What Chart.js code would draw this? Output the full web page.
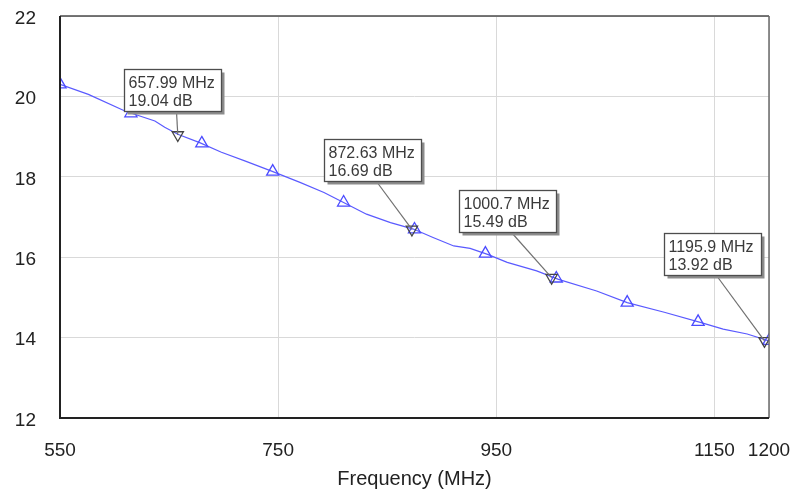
<!DOCTYPE html>
<html>
<head>
<meta charset="utf-8">
<script src="https://cdn.jsdelivr.net/npm/chart.js@4/dist/chart.umd.min.js"></script>
<style>
  html, body { margin: 0; padding: 0; background: #ffffff; }
  #wrap { width: 795px; height: 491px; position: relative; }
</style>
</head>
<body>
<div id="wrap"><canvas id="c" width="795" height="491"></canvas></div>
<script>
// ---- data ----
const traceFreq = [550,576,610,637,646,658,678,698,720,744,770,792,810,831,853,874,892,911,926,942,960,987,1007,1042,1070,1104,1137,1158,1180,1200];
const traceGain = [20.30,20.05,19.63,19.39,19.23,19.06,18.85,18.61,18.39,18.14,17.86,17.61,17.36,17.07,16.86,16.70,16.49,16.28,16.22,16.07,15.87,15.66,15.45,15.16,14.87,14.63,14.38,14.21,14.09,13.92];

const symbolFreq = [550,615,680,745,810,875,940,1005,1070,1135,1200];
const symbolGain = [20.30,19.58,18.83,18.13,17.36,16.69,16.09,15.47,14.87,14.39,13.92];

const markerFreq = [657.99, 872.63, 1000.7, 1195.9];
const markerGain = [19.04, 16.69, 15.49, 13.92];
const markerFreqText = ['657.99 MHz', '872.63 MHz', '1000.7 MHz', '1195.9 MHz'];
const markerGainText = ['19.04 dB', '16.69 dB', '15.49 dB', '13.92 dB'];

const xTickValues = [550, 750, 950, 1150, 1200];
const yTickValues = [12, 14, 16, 18, 20, 22];
const xTitle = 'Frequency (MHz)';

// label box placement (pixel offsets from marker point), kept apart from data
const boxOffsets = [[-54, -66], [-88, -90], [-93, -88], [-101, -108]];

const FONT = '"Liberation Sans", Arial, sans-serif';

const framePlugin = {
  id: 'frame',
  afterDatasetsDraw(chart) {
    const ctx = chart.ctx;
    const a = chart.chartArea;
    ctx.save();
    // top
    ctx.strokeStyle = '#4a4a4a'; ctx.lineWidth = 1.5;
    ctx.beginPath(); ctx.moveTo(a.left, a.top); ctx.lineTo(a.right, a.top); ctx.stroke();
    // right
    ctx.strokeStyle = '#6a6a6a'; ctx.lineWidth = 1.5;
    ctx.beginPath(); ctx.moveTo(a.right, a.top); ctx.lineTo(a.right, a.bottom); ctx.stroke();
    // left & bottom
    ctx.strokeStyle = '#222222'; ctx.lineWidth = 2;
    ctx.beginPath(); ctx.moveTo(a.left, a.top); ctx.lineTo(a.left, a.bottom); ctx.lineTo(a.right, a.bottom); ctx.stroke();

    // marker label boxes
    const xs = chart.scales.x, ys = chart.scales.y;
    const bw = 97, bh = 42;
    for (let i = 0; i < markerFreq.length; i++) {
      const px = xs.getPixelForValue(markerFreq[i]);
      const py = ys.getPixelForValue(markerGain[i]);
      const bx = Math.round(px + boxOffsets[i][0]) + 0.5;
      const by = Math.round(py + boxOffsets[i][1]) + 0.5;
      // leader line
      ctx.strokeStyle = '#707070'; ctx.lineWidth = 1.2;
      ctx.beginPath(); ctx.moveTo(bx + 52, by + bh); ctx.lineTo(px, py); ctx.stroke();
      // shadow
      ctx.fillStyle = '#8c8c8c';
      ctx.fillRect(bx + 3, by + 3, bw, bh);
      // box
      ctx.fillStyle = '#ffffff';
      ctx.fillRect(bx, by, bw, bh);
      ctx.strokeStyle = '#4d4d4d'; ctx.lineWidth = 1.3;
      ctx.strokeRect(bx, by, bw, bh);
      // text
      ctx.fillStyle = '#3a3a3a';
      ctx.font = '16px ' + FONT;
      ctx.textAlign = 'left'; ctx.textBaseline = 'alphabetic';
      ctx.fillText(markerFreqText[i], bx + 4, by + 18);
      ctx.fillText(markerGainText[i], bx + 4, by + 36.5);
    }
    ctx.restore();
  }
};

new Chart(document.getElementById('c'), {
  type: 'line',
  data: {
    datasets: [
      {
        label: 'trace',
        data: traceFreq.map((f, i) => ({ x: f, y: traceGain[i] })),
        borderColor: '#5a5aff',
        borderWidth: 1.2,
        pointRadius: 0,
        tension: 0,
        fill: false,
        order: 3
      },
      {
        label: 'symbols',
        data: symbolFreq.map((f, i) => ({ x: f, y: symbolGain[i] })),
        showLine: false,
        pointStyle: 'triangle',
        pointRadius: 7,
        pointBorderColor: '#4b4bff',
        pointBackgroundColor: 'rgba(0,0,0,0)',
        pointBorderWidth: 1.3,
        order: 2
      },
      {
        label: 'markers',
        data: markerFreq.map((f, i) => ({ x: f, y: markerGain[i] })),
        showLine: false,
        pointStyle: 'triangle',
        rotation: 180,
        pointRotation: 180,
        pointRadius: 6.5,
        pointBorderColor: '#444444',
        pointBackgroundColor: 'rgba(0,0,0,0)',
        pointBorderWidth: 1.3,
        order: 1
      }
    ]
  },
  options: {
    responsive: false,
    animation: false,
    events: [],
    layout: { padding: { top: 16, right: 26, left: 0, bottom: 0 } },
    plugins: { legend: { display: false }, tooltip: { enabled: false } },
    scales: {
      x: {
        type: 'linear',
        min: 550, max: 1200,
        afterBuildTicks(scale) { scale.ticks = xTickValues.map(v => ({ value: v })); },
        afterFit(scale) { scale.height = 73; scale.paddingLeft = 0; scale.paddingRight = 0; },
        grid: { color: '#d9d9d9', lineWidth: 1, drawTicks: false },
        border: { display: false },
        ticks: {
          padding: 21,
          maxRotation: 0,
          autoSkip: false,
          color: '#222222',
          font: { family: FONT, size: 19 },
          callback: v => String(v)
        },
        title: {
          display: true,
          text: xTitle,
          color: '#222222',
          font: { family: FONT, size: 20 },
          padding: { top: 0, bottom: 0 }
        }
      },
      y: {
        type: 'linear',
        min: 12, max: 22,
        afterBuildTicks(scale) { scale.ticks = yTickValues.map(v => ({ value: v })); },
        afterFit(scale) { scale.width = 60; scale.paddingTop = 0; scale.paddingBottom = 0; },
        grid: { color: '#d9d9d9', lineWidth: 1, drawTicks: false },
        border: { display: false },
        ticks: {
          padding: 24,
          labelOffset: 2.5,
          color: '#222222',
          font: { family: FONT, size: 19 },
          callback: v => String(v)
        }
      }
    }
  },
  plugins: [framePlugin]
});
</script>
</body>
</html>
